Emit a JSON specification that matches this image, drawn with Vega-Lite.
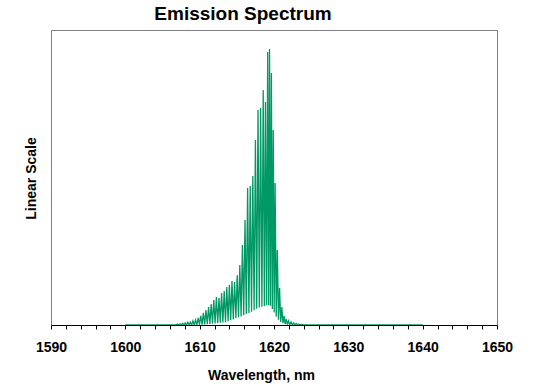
{
  "$schema": "https://vega.github.io/schema/vega-lite/v6.json",
  "width": 446,
  "height": 295,
  "autosize": {"type": "none"},
  "padding": {"left": 51, "top": 30, "right": 42, "bottom": 65},
  "background": "white",
  "config": {
    "view": {"stroke": "#808080", "strokeWidth": 1},
    "font": "Liberation Sans"
  },
  "title": {
    "text": "Emission Spectrum",
    "font": "Liberation Sans",
    "fontSize": 19,
    "fontWeight": "bold",
    "color": "black",
    "anchor": "middle",
    "frame": "group",
    "dx": -31,
    "offset": 6
  },
  "data": {
    "values": [
      {"w": 1600, "v": 0}, {"w": 1606.8, "v": 0},
      {"w": 1607.0, "v": 0.3}, {"w": 1607.175, "v": 0},
      {"w": 1607.35, "v": 0.4}, {"w": 1607.525, "v": 0},
      {"w": 1607.7, "v": 0.6}, {"w": 1607.875, "v": 0},
      {"w": 1608.05, "v": 0.7}, {"w": 1608.225, "v": 0},
      {"w": 1608.4, "v": 0.9}, {"w": 1608.575, "v": 0},
      {"w": 1608.75, "v": 1.0}, {"w": 1608.925, "v": 0},
      {"w": 1609.1, "v": 1.4}, {"w": 1609.275, "v": 0},
      {"w": 1609.45, "v": 1.7}, {"w": 1609.625, "v": 0.05},
      {"w": 1609.8, "v": 2.4}, {"w": 1609.975, "v": 0.1},
      {"w": 1610.15, "v": 3.1}, {"w": 1610.325, "v": 0.15},
      {"w": 1610.5, "v": 4.1}, {"w": 1610.675, "v": 0.2},
      {"w": 1610.85, "v": 5.1}, {"w": 1611.025, "v": 0.3},
      {"w": 1611.2, "v": 6.1}, {"w": 1611.375, "v": 0.35},
      {"w": 1611.55, "v": 7.1}, {"w": 1611.725, "v": 0.45},
      {"w": 1611.9, "v": 8.5}, {"w": 1612.075, "v": 0.5},
      {"w": 1612.25, "v": 9.5}, {"w": 1612.425, "v": 0.6},
      {"w": 1612.6, "v": 9.2}, {"w": 1612.775, "v": 0.75},
      {"w": 1612.95, "v": 10.8}, {"w": 1613.125, "v": 0.85},
      {"w": 1613.3, "v": 11.5}, {"w": 1613.475, "v": 0.95},
      {"w": 1613.65, "v": 12.9}, {"w": 1613.825, "v": 1.2},
      {"w": 1614.0, "v": 13.6}, {"w": 1614.175, "v": 1.6},
      {"w": 1614.35, "v": 14.9}, {"w": 1614.525, "v": 1.9},
      {"w": 1614.7, "v": 14.6}, {"w": 1614.875, "v": 2.3},
      {"w": 1615.05, "v": 16.9}, {"w": 1615.225, "v": 2.6},
      {"w": 1615.4, "v": 20.3}, {"w": 1615.575, "v": 2.9},
      {"w": 1615.75, "v": 27.1}, {"w": 1615.925, "v": 3.3},
      {"w": 1616.1, "v": 35.6}, {"w": 1616.275, "v": 3.7},
      {"w": 1616.45, "v": 46.4}, {"w": 1616.625, "v": 4.1},
      {"w": 1616.8, "v": 47.1}, {"w": 1616.975, "v": 4.5},
      {"w": 1617.15, "v": 50.5}, {"w": 1617.325, "v": 5.0},
      {"w": 1617.5, "v": 62.7}, {"w": 1617.675, "v": 5.5},
      {"w": 1617.85, "v": 72.9}, {"w": 1618.025, "v": 5.9},
      {"w": 1618.2, "v": 73.6}, {"w": 1618.375, "v": 6.2},
      {"w": 1618.55, "v": 79.7}, {"w": 1618.7, "v": 6.4},
      {"w": 1618.85, "v": 75.6}, {"w": 1619.0, "v": 6.7},
      {"w": 1619.15, "v": 92.5}, {"w": 1619.275, "v": 6.8},
      {"w": 1619.4, "v": 93.6}, {"w": 1619.525, "v": 6.5},
      {"w": 1619.65, "v": 85.4}, {"w": 1619.775, "v": 5.4},
      {"w": 1619.9, "v": 66.1}, {"w": 1620.025, "v": 4.2},
      {"w": 1620.15, "v": 48.1}, {"w": 1620.3, "v": 2.8},
      {"w": 1620.45, "v": 25.4}, {"w": 1620.6, "v": 1.8},
      {"w": 1620.75, "v": 12.5}, {"w": 1620.9, "v": 1.0},
      {"w": 1621.05, "v": 6.1}, {"w": 1621.2, "v": 0.6},
      {"w": 1621.35, "v": 3.1}, {"w": 1621.5, "v": 0.3},
      {"w": 1621.65, "v": 2.0}, {"w": 1621.8, "v": 0.15},
      {"w": 1621.95, "v": 1.4}, {"w": 1622.125, "v": 0.1},
      {"w": 1622.3, "v": 1.0}, {"w": 1622.475, "v": 0.05},
      {"w": 1622.65, "v": 0.7}, {"w": 1622.825, "v": 0},
      {"w": 1623.0, "v": 0.5}, {"w": 1623.175, "v": 0},
      {"w": 1623.35, "v": 0.3}, {"w": 1623.525, "v": 0},
      {"w": 1623.7, "v": 0.2}, {"w": 1624.0, "v": 0},
      {"w": 1640, "v": 0}
    ]
  },
  "mark": {"type": "line", "color": "#009966", "strokeWidth": 1.3, "interpolate": "linear", "clip": true},
  "encoding": {
    "x": {
      "field": "w",
      "type": "quantitative",
      "scale": {"domain": [1590, 1650], "nice": false, "zero": false},
      "axis": {
        "values": [1590,1592,1594,1596,1598,1600,1602,1604,1606,1608,1610,1612,1614,1616,1618,1620,1622,1624,1626,1628,1630,1632,1634,1636,1638,1640,1642,1644,1646,1648,1650],
        "format": "d",
        "labelExpr": "datum.value % 10 === 0 ? datum.label : ''",
        "labelOverlap": false,
        "labelFlush": false,
        "labelFont": "Liberation Sans",
        "labelFontSize": 14,
        "labelFontWeight": "bold",
        "labelColor": "black",
        "labelPadding": 11,
        "grid": false,
        "domainColor": "black",
        "domainWidth": 1,
        "tickColor": "black",
        "tickWidth": 1,
        "tickSize": 4,
        "title": "Wavelength, nm",
        "titleFont": "Liberation Sans",
        "titleFontSize": 14,
        "titleFontWeight": "bold",
        "titleColor": "black",
        "titleX": 210,
        "titleY": 54,
        "titleAlign": "center",
        "titleBaseline": "alphabetic",
        "titleAnchor": null
      }
    },
    "y": {
      "field": "v",
      "type": "quantitative",
      "scale": {"domain": [0, 100], "nice": false},
      "axis": {
        "labels": false,
        "ticks": false,
        "domain": false,
        "grid": false,
        "title": "Linear Scale",
        "titleFont": "Liberation Sans",
        "titleFontSize": 14,
        "titleFontWeight": "bold",
        "titleColor": "black",
        "titleAngle": -90,
        "titleX": -16,
        "titleY": 148,
        "titleAlign": "center",
        "titleBaseline": "alphabetic"
      }
    }
  }
}
